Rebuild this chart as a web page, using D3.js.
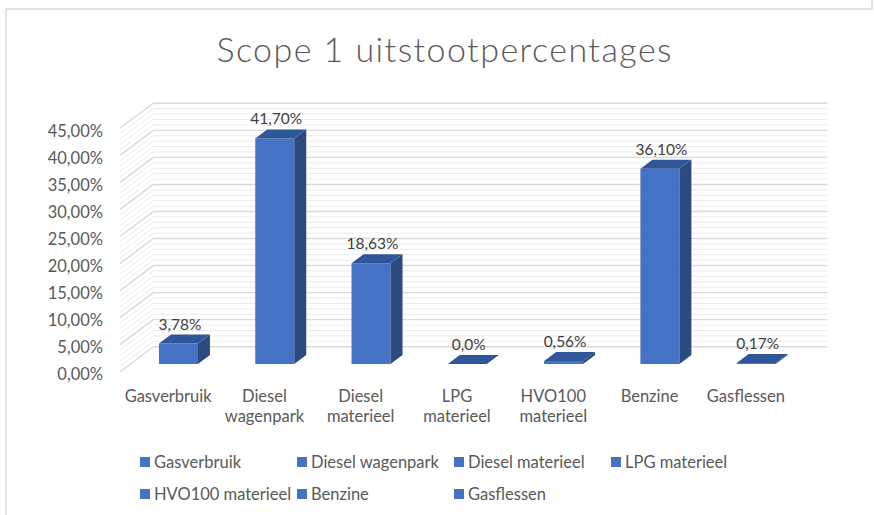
<!DOCTYPE html>
<html>
<head>
<meta charset="utf-8">
<script src="https://cdn.jsdelivr.net/npm/d3@7"></script>
<style>
  body { margin: 0; background: #fff; }
  text { font-family: Lato, "Open Sans", sans-serif; }
</style>
</head>
<body>
<svg id="chart" width="874" height="515"></svg>
<script>
var categories = ["Gasverbruik", "Diesel wagenpark", "Diesel materieel", "LPG materieel", "HVO100 materieel", "Benzine", "Gasflessen"];
var axisLines = [["Gasverbruik"], ["Diesel", "wagenpark"], ["Diesel", "materieel"], ["LPG", "materieel"], ["HVO100", "materieel"], ["Benzine"], ["Gasflessen"]];
var values = [3.78, 41.70, 18.63, 0.0, 0.56, 36.10, 0.17];
var valueLabels = ["3,78%", "41,70%", "18,63%", "0,0%", "0,56%", "36,10%", "0,17%"];
var yTicks = [0, 5, 10, 15, 20, 25, 30, 35, 40, 45];
var yTickLabels = ["0,00%", "5,00%", "10,00%", "15,00%", "20,00%", "25,00%", "30,00%", "35,00%", "40,00%", "45,00%"];

var svg = d3.select("#chart");

// depth of the 3d box (front edge -> back wall)
var DX = 33.3, DY = -25;
var f0 = 0.31, f1 = 0.67; // bar depth as fraction of the box

var x = d3.scaleBand().domain(categories).range([120, 794]).paddingInner(0.595).paddingOuter(0.2975);
var y = d3.scaleLinear().domain([0, 45]).range([371.7, 128.3]);

// outer chart border
svg.append("path")
    .attr("d", "M6,515 L6,9 L872,9 L872,0")
    .attr("fill", "none")
    .attr("stroke", "#d9d9d9")
    .attr("stroke-width", 1.5);

svg.append("text")
    .attr("x", 444)
    .attr("y", 62)
    .attr("text-anchor", "middle")
    .attr("font-size", "34px")
    .attr("font-weight", 300)
    .attr("textLength", 455)
    .attr("lengthAdjust", "spacing")
    .attr("fill", "#595959")
    .text("Scope 1 uitstootpercentages");

// gridlines on back wall and side wall, minor every 1%
var grid = d3.range(0, 46);
var g = svg.append("g");
g.selectAll("line.back").data(grid).enter()
    .append("line")
        .attr("x1", 120 + DX)
        .attr("x2", 794 + DX)
        .attr("y1", function(d) { return y(d) + DY; })
        .attr("y2", function(d) { return y(d) + DY; })
        .attr("stroke", function(d) { return d % 5 == 0 ? "#d9d9d9" : "#ececec"; })
        .attr("stroke-width", function(d) { return d % 5 == 0 ? 1.4 : 1; });
g.selectAll("line.side").data(grid).enter()
    .append("line")
        .attr("x1", 120)
        .attr("x2", 120 + DX)
        .attr("y1", function(d) { return y(d); })
        .attr("y2", function(d) { return y(d) + DY; })
        .attr("stroke", function(d) { return d % 5 == 0 ? "#d9d9d9" : "#ececec"; })
        .attr("stroke-width", function(d) { return d % 5 == 0 ? 1.4 : 1; });

svg.selectAll("text.ytick").data(yTicks).enter()
    .append("text")
        .attr("x", 103)
        .attr("y", function(d) { return y(d) + 2.5; })
        .attr("dominant-baseline", "central")
        .attr("text-anchor", "end")
        .attr("font-size", "16.5px")
        .attr("fill", "#595959")
        .text(function(d, i) { return yTickLabels[i]; });

// bars: front, side and top faces
function pt(px, v, f) { return [px + f * DX, y(v) + f * DY]; }

var bars = svg.append("g").selectAll("g").data(values).enter().append("g");
bars.each(function(v, i) {
    var b = d3.select(this);
    var xl = x(categories[i]), xr = xl + x.bandwidth();
    var front = [pt(xl, 0, f0), pt(xr, 0, f0), pt(xr, v, f0), pt(xl, v, f0)];
    var side = [pt(xr, 0, f0), pt(xr, 0, f1), pt(xr, v, f1), pt(xr, v, f0)];
    var top = [pt(xl, v, f0), pt(xr, v, f0), pt(xr, v, f1), pt(xl, v, f1)];
    b.append("polygon").attr("points", front.join(" ")).attr("fill", "#4472c4");
    b.append("polygon").attr("points", side.join(" ")).attr("fill", "#2b4a80");
    b.append("polygon").attr("points", top.join(" ")).attr("fill", "#30569a");
    var c = pt(xl + x.bandwidth() / 2, v, f1);
    b.append("text")
        .attr("x", c[0] - 10.5)
        .attr("y", c[1] - 5)
        .attr("text-anchor", "middle")
        .attr("font-size", "15.5px")
        .attr("fill", "#404040")
        .text(valueLabels[i]);
});

// category labels under the box
svg.selectAll("text.cat").data(categories).enter()
    .append("text")
        .attr("x", function(d) { return x(d) + x.bandwidth() / 2; })
        .attr("y", 402)
        .attr("text-anchor", "middle")
        .attr("font-size", "16.5px")
        .attr("fill", "#595959")
        .each(function(d, i) {
            var t = d3.select(this);
            axisLines[i].forEach(function(s, j) {
                t.append("tspan")
                    .attr("x", x(d) + x.bandwidth() / 2)
                    .attr("dy", j == 0 ? 0 : 20)
                    .text(s);
            });
        });

// legend, 4 columns
var leg = svg.selectAll("g.leg").data(categories).enter()
    .append("g")
        .attr("transform", function(d, i) { return "translate(" + (140 + (i % 4) * 157) + "," + (462 + Math.floor(i / 4) * 32) + ")"; });
leg.append("rect")
    .attr("x", 0)
    .attr("y", -5)
    .attr("width", 10)
    .attr("height", 10)
    .attr("fill", "#4472c4");
leg.append("text")
    .attr("x", 14)
    .attr("y", 0)
    .attr("dominant-baseline", "central")
    .attr("font-size", "16.5px")
    .attr("fill", "#595959")
    .text(function(d) { return d; });
</script>
</body>
</html>
